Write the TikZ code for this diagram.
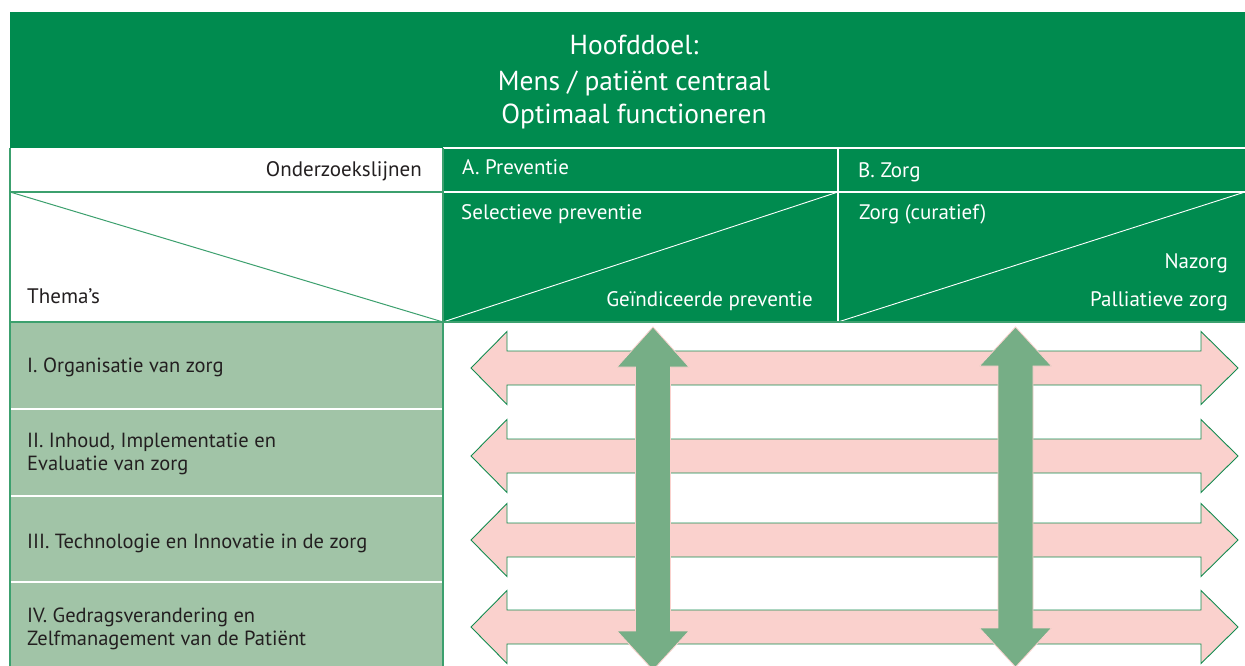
\documentclass[tikz,border=0pt]{standalone}
\usepackage{fontspec}
\setmainfont{PT Sans}
\definecolor{dg}{RGB}{0,139,79}
\definecolor{rowg}{RGB}{161,196,167}
\definecolor{rule}{RGB}{60,160,110}
\definecolor{pinkfill}{RGB}{250,209,205}
\definecolor{pinkedge}{RGB}{20,140,80}
\definecolor{vgreen}{RGB}{118,174,134}
\definecolor{ink}{RGB}{35,31,32}
\newcommand\ttlfnt{\fontsize{27.5}{32}\selectfont}
\newcommand\hdrfnt{\fontsize{21}{25}\selectfont}
\newcommand\rowfnt{\fontsize{20.5}{24}\selectfont}
% horizontal double arrow through the matrix, centred at height #1
\newcommand\pinkarrow[1]{%
  \filldraw[fill=pinkfill, draw=pinkedge, line width=0.9pt, line join=miter]
    (471,#1) -- (507,#1-36.5) -- (507,#1-17) -- (1201,#1-17) -- (1201,#1-36.5)
    -- (1238,#1) -- (1201,#1+36.5) -- (1201,#1+17) -- (507,#1+17) -- (507,#1+36.5) -- cycle;}
% vertical double arrow at x=#1, head bases at #2 and #3
\newcommand\greenarrow[3]{%
  \filldraw[fill=vgreen, draw=pinkfill, line width=0.8pt]
    (#1,327) -- (#1+36,#2) -- (#1+17.5,#2) -- (#1+17.5,#3) -- (#1+36,#3)
    -- (#1,#3+39) -- (#1-36,#3) -- (#1-17.5,#3) -- (#1-17.5,#2) -- (#1-36,#2) -- cycle;}
\begin{document}
\begin{tikzpicture}[x=1pt, y=-1pt,
  cell/.style={inner sep=0pt, outer sep=0pt, anchor=north west},
  wtext/.style={inner sep=0pt, text=white, font=\hdrfnt},
  dtext/.style={inner sep=0pt, text=ink, font=\hdrfnt},
  rtext/.style={inner sep=0pt, text=ink, font=\rowfnt, anchor=base west},
  ttext/.style={inner sep=0pt, text=white, font=\ttlfnt, anchor=base},
  whiteline/.style={white, line width=2pt},
  greenline/.style={rule, line width=1.6pt}]
\useasboundingbox (0,0) rectangle (1245,666);
\fill[white] (0,0) rectangle (1245,666);
\begin{scope}
\clip (0,0) rectangle (1245,666);

% title band
\node[cell, fill=dg, minimum width=1235pt, minimum height=136pt] (title) at (10,12) {};
\node[ttext] (t1) at (634,55) {Hoofddoel:};
\node[ttext] (t2) at (634,90.5) {Mens / patiënt centraal};
\node[ttext] (t3) at (634,124) {Optimaal functioneren};

% header row
\node[cell, fill=white, minimum width=433pt, minimum height=44pt] (hL) at (10,148) {};
\node[cell, fill=dg, minimum width=395pt, minimum height=44pt] (hA) at (443,148) {};
\node[cell, fill=dg, minimum width=407pt, minimum height=44pt] (hB) at (838,148) {};

% sub-header row with diagonals
\node[cell, fill=white, minimum width=433pt, minimum height=130pt] (dL) at (10,192) {};
\node[cell, fill=dg, minimum width=395pt, minimum height=130pt] (dA) at (443,192) {};
\node[cell, fill=dg, minimum width=407pt, minimum height=130pt] (dB) at (838,192) {};

% theme rows
\node[cell, fill=rowg, minimum width=433pt, minimum height=87pt] (r1) at (10,322) {};
\node[cell, fill=rowg, minimum width=433pt, minimum height=87pt] (r2) at (10,409) {};
\node[cell, fill=rowg, minimum width=433pt, minimum height=86pt] (r3) at (10,496) {};
\node[cell, fill=rowg, minimum width=433pt, minimum height=90pt] (r4) at (10,582) {};

% separators
\draw[whiteline] (hA.north west) -- (hB.north east);
\draw[whiteline] (dA.north west) -- (dB.north east);
\draw[whiteline] (hB.north west) -- (dB.south west);
\draw[white, line width=0.9pt] (dA.south west) -- (dA.north east);
\draw[white, line width=0.9pt] (dB.south west) -- (dB.north east);
\draw[whiteline] (r2.north west) -- (r2.north east);
\draw[whiteline] (r3.north west) -- (r3.north east);
\draw[whiteline] (r4.north west) -- (r4.north east);
\draw[greenline] (hL.north west) -- (r4.south west);
\draw[greenline] (hL.north east) -- (r4.south east);
\draw[greenline] (hL.south west) -- (hL.south east);
\draw[greenline] (r1.north west) -- (dB.south east);
\draw[rule, line width=1pt] (dL.north west) -- (dL.south east);

% header texts
\node[dtext, anchor=base east] (lines) at (422,176) {Onderzoekslijnen};
\node[dtext, anchor=base west] (themes) at (27,303) {Thema’s};
\node[wtext, anchor=base west] (pA) at (462,175) {A. Preventie};
\node[wtext, anchor=base west] (pB) at (858,177) {B. Zorg};
\node[wtext, anchor=base west] (sel) at (461,219) {Selectieve preventie};
\node[wtext, anchor=base east] (ind) at (813,306) {Geïndiceerde preventie};
\node[wtext, anchor=base west] (cur) at (859,219) {Zorg (curatief)};
\node[wtext, anchor=base east] (naz) at (1228,268) {Nazorg};
\node[wtext, anchor=base east] (pal) at (1228,306) {Palliatieve zorg};

% theme labels
\node[rtext] (l1) at (27,372) {I. Organisatie van zorg};
\node[rtext] (l2a) at (27,447) {II. Inhoud, Implementatie en};
\node[rtext] (l2b) at (27,470) {Evaluatie van zorg};
\node[rtext] (l3) at (27,548) {III. Technologie en Innovatie in de zorg};
\node[rtext] (l4a) at (27,622) {IV. Gedragsverandering en};
\node[rtext] (l4b) at (27,645) {Zelfmanagement van de Patiënt};

% arrows across the matrix
\pinkarrow{368}
\pinkarrow{456}
\pinkarrow{540}
\pinkarrow{627}
\greenarrow{653}{367}{631}
\greenarrow{1015.5}{366}{628}
\end{scope}
\end{tikzpicture}
\end{document}
